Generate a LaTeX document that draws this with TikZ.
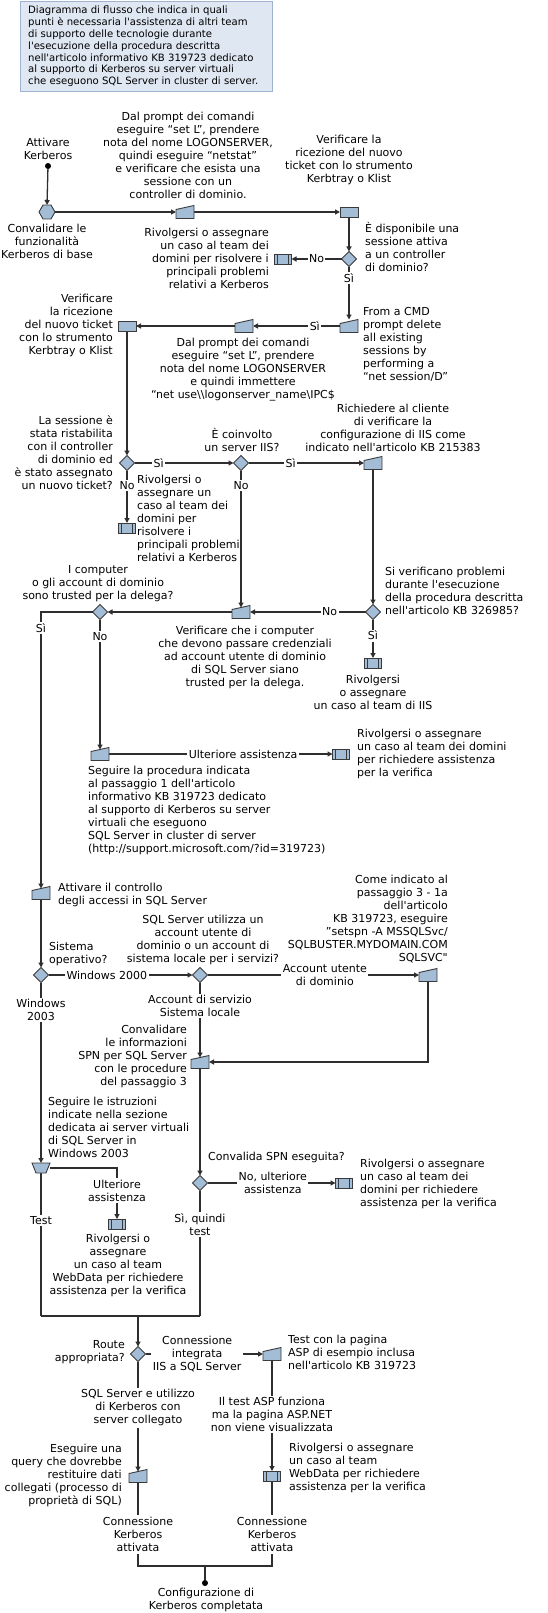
\documentclass[tikz,border=0pt]{standalone}
\usepackage{fontspec}
\setmainfont{DejaVu Sans}
\usetikzlibrary{arrows.meta,shapes.geometric}
\definecolor{shfill}{HTML}{A4BDD6}
\definecolor{shdraw}{HTML}{3A3A3A}
\definecolor{lncol}{HTML}{2E2E2E}
\definecolor{hdrfill}{HTML}{DFE7F2}
\definecolor{hdrdraw}{HTML}{9FB3D1}
\newcommand\myfs{\fontsize{11}{13}\selectfont}
\newcommand\hdrfs{\fontsize{10.1}{11.85}\selectfont}
\newcommand\apo{\textquotesingle}
\newcommand\drawmi[1]{\filldraw[shp] (#1.south west) -- (#1.south east) -- (#1.north east) -- ([yshift=-4pt]#1.north west) -- cycle;}
\newcommand\drawmo[1]{\filldraw[shp] (#1.north west) -- (#1.north east) -- ([xshift=-4pt]#1.south east) -- ([xshift=4pt]#1.south west) -- cycle;}
\newcommand\drawpp[1]{\filldraw[shp] (#1.south west) rectangle (#1.north east);
  \draw[draw=shdraw, line width=0.9pt] ([xshift=3pt]#1.south west) -- ([xshift=3pt]#1.north west) ([xshift=-3pt]#1.south east) -- ([xshift=-3pt]#1.north east);}
\newcommand\drawpr[1]{\filldraw[shp] (#1.south west) rectangle (#1.north east);}
\newcommand\drawhex[1]{\filldraw[shp] (#1.west) -- ([xshift=4pt]#1.north west) -- ([xshift=-4pt]#1.north east) -- (#1.east) -- ([xshift=-4pt]#1.south east) -- ([xshift=4pt]#1.south west) -- cycle;}
\begin{document}
\begin{tikzpicture}[x=1pt,y=-1pt,
 txt/.style={font=\myfs, inner sep=0pt, align=center, text=black},
 txl/.style={txt, align=left, anchor=west},
 txr/.style={txt, align=right, anchor=east},
 lbl/.style={txt, fill=white, inner sep=1.5pt},
 arr/.style={draw=lncol, line width=1.3pt, -{Triangle[length=5pt,width=5pt]}},
 lin/.style={draw=lncol, line width=1.3pt},
 shp/.style={fill=shfill, draw=shdraw, line width=0.9pt},
 mibox/.style={rectangle, minimum width=18pt, minimum height=13pt, inner sep=0pt, outer sep=0pt},
 prbox/.style={rectangle, minimum width=18pt, minimum height=10pt, inner sep=0pt, outer sep=0pt},
 ppbox/.style={rectangle, minimum width=17pt, minimum height=10pt, inner sep=0pt, outer sep=0pt},
 hexbox/.style={rectangle, minimum width=16pt, minimum height=14pt, inner sep=0pt, outer sep=0pt},
 dia/.style={diamond, shp, minimum width=15pt, minimum height=15pt, inner sep=0pt, outer sep=0pt},
 dot/.style={circle, fill=black, inner sep=0pt, minimum size=6pt, outer sep=0pt}
]
\useasboundingbox (0,0) rectangle (547,1613);
% header
\filldraw[fill=hdrfill, draw=hdrdraw, line width=1pt] (20,1.5) rectangle (272,92);
\node[txl, font=\hdrfs] (hdr) at (28,46.5) {Diagramma di flusso che indica in quali\\punti è necessaria l\apo assistenza di altri team\\di supporto delle tecnologie durante\\l\apo esecuzione della procedura descritta\\nell\apo articolo informativo KB 319723 dedicato\\al supporto di Kerberos su server virtuali\\che eseguono SQL Server in cluster di server.};

% ---------- shapes (invisible boxes) ----------
\node[dot] (start) at (48,166) {};
\node[hexbox] (h1) at (47,212) {};
\node[mibox] (mi1) at (185,212) {};
\node[prbox] (p1) at (349,212) {};
\node[dia] (d1) at (349,259) {};
\node[ppbox] (pp1) at (283,259) {};
\node[mibox] (mi2) at (349,326) {};
\node[mibox] (mi3) at (244,326) {};
\node[prbox] (p2) at (127,326) {};
\node[dia] (d2) at (127,463) {};
\node[dia] (d3) at (241,463) {};
\node[mibox] (mi4) at (373,463) {};
\node[ppbox] (pp2) at (127,528) {};
\node[dia] (d4) at (373,612) {};
\node[mibox] (mi5) at (241,612) {};
\node[dia] (d5) at (100,612) {};
\node[ppbox] (pp3) at (373,663) {};
\node[mibox] (mi7) at (100,754) {};
\node[ppbox] (pp4) at (341,754) {};
\node[mibox] (mi6) at (41,893) {};
\node[dia] (d6) at (41,975) {};
\node[dia] (d7) at (200,975) {};
\node[mibox] (mi8) at (428,975) {};
\node[mibox] (mi9) at (200,1062) {};
\node[prbox] (mi10) at (41,1168) {};
\node[ppbox] (pp5) at (117,1224) {};
\node[dia] (d9) at (200,1183) {};
\node[ppbox] (pp6) at (344,1183) {};
\node[dia] (d10) at (138,1354) {};
\node[mibox] (mi11) at (272,1354) {};
\node[ppbox] (pp7) at (272,1476) {};
\node[mibox] (mi12) at (138,1476) {};
\node[txt, inner sep=2pt] (ck1) at (138,1534.5) {Connessione\\Kerberos\\attivata};
\node[txt, inner sep=2pt] (ck2) at (272,1534.5) {Connessione\\Kerberos\\attivata};
\node[dot] (enddot) at (205,1583) {};
\coordinate (jl) at (41,1316);
\coordinate (jr) at (200,1316);
\coordinate (jn) at (138,1316);
\coordinate (bl) at (138,1566);
\coordinate (br) at (272,1566);
\coordinate (bm) at (205,1566);

% ---------- connectors ----------
\draw[arr] (start) -- (h1.north);
\draw[arr] (h1.east) -- (mi1.west);
\draw[arr] (mi1.east) -- (p1.west);
\draw[arr] (p1.south) -- (d1.north);
\draw[arr] (d1.west) -- node[lbl]{No} (pp1.east);
\draw[arr] (d1.south) -- node[lbl, pos=0.22]{Sì} (mi2.north);
\draw[arr] (mi2.west) -- node[lbl, pos=0.29]{Sì} (mi3.east);
\draw[arr] (mi3.west) -- (p2.east);
\draw[arr] (p2.south) -- (d2.north);
\draw[arr] (d2.east) -- node[lbl, pos=0.245]{Sì} (d3.west);
\draw[arr] (d2.south) -- node[lbl, pos=0.29]{No} (pp2.north);
\draw[arr] (d3.east) -- node[lbl, pos=0.365]{Sì} (mi4.west);
\draw[arr, shorten >=-2pt] (d3.south) -- node[lbl, pos=0.11]{No} (mi5.north);
\draw[arr] (mi4.south) -- (d4.north);
\draw[arr] (d4.west) -- node[lbl, pos=0.31]{No} (mi5.east);
\draw[arr] (d4.south) -- node[lbl, pos=0.42]{Sì} (pp3.north);
\draw[arr] (mi5.west) -- (d5.east);
\draw[arr, shorten >=-2pt] (d5.west) -| node[lbl, pos=0.53]{Sì} (mi6.north);
\draw[arr, shorten >=-2pt] (d5.south) -- node[lbl, pos=0.13]{No} (mi7.north);
\draw[arr] (mi7.east) -- node[lbl, pos=0.6]{Ulteriore assistenza} (pp4.west);
\draw[arr] (mi6.south) -- (d6.north);
\draw[arr] (d6.east) -- node[lbl, pos=0.405]{Windows 2000} (d7.west);
\draw[arr] (d7.east) -- node[lbl, pos=0.555]{Account utente\\di dominio} (mi8.west);
\draw[arr, shorten >=-2pt] (d7.south) -- node[lbl, pos=0.32]{Account di servizio\\Sistema locale} (mi9.north);
\draw[arr] (mi8.south) |- (mi9.east);
\draw[arr] (d6.south) -- node[lbl, pos=0.153]{Windows\\2003} (mi10.north);
\draw[arr] (mi10.east) -| node[lbl, pos=0.72]{Ulteriore\\assistenza} (pp5.north);
\draw[arr] (mi9.south) -- (d9.north);
\draw[arr] (d9.east) -- node[lbl, pos=0.51]{No, ulteriore\\assistenza} (pp6.west);
\draw[lin] (mi10.south) -- node[lbl, pos=0.33]{Test} (jl);
\draw[lin] (d9.south) -- node[lbl, pos=0.27]{Sì, quindi\\test} (jr);
\draw[lin] (jl) -- (jr);
\draw[arr] (jn) -- (d10.north);
\draw[arr] (d10.east) -- node[lbl, pos=0.44]{Connessione\\integrata\\IIS a SQL Server} (mi11.west);
\draw[arr, shorten >=-2pt] (d10.south) -- node[lbl, pos=0.43]{SQL Server e utilizzo\\di Kerberos con\\server collegato} (mi12.north);
\draw[arr] (mi11.south) -- node[lbl, pos=0.49]{Il test ASP funziona\\ma la pagina ASP.NET\\non viene visualizzata} (pp7.north);
\draw[lin] (mi12.south) -- (ck1.north);
\draw[lin] (pp7.south) -- (ck2.north);
\draw[lin] (ck1.south) -- (bl) -- (br) -- (ck2.south);
\draw[lin] (bm) -- (enddot);

% ---------- shape outlines ----------
\drawhex{h1}
\drawmi{mi1} \drawmi{mi2} \drawmi{mi3} \drawmi{mi4} \drawmi{mi5} \drawmi{mi6}
\drawmi{mi7} \drawmi{mi8} \drawmi{mi9} \drawmi{mi11} \drawmi{mi12}
\drawmo{mi10}
\drawpr{p1} \drawpr{p2}
\drawpp{pp1} \drawpp{pp2} \drawpp{pp3} \drawpp{pp4} \drawpp{pp5} \drawpp{pp6} \drawpp{pp7}

% ---------- texts ----------
\node[txt] (t0) at (48,148.5) {Attivare\\Kerberos};
\node[txt] (th1) at (47,241) {Convalidare le\\funzionalità\\Kerberos di base};
\node[txt] (tmi1) at (188,155) {Dal prompt dei comandi\\eseguire “set L”, prendere\\nota del nome LOGONSERVER,\\quindi eseguire “netstat”\\e verificare che esista una\\sessione con un\\controller di dominio.};
\node[txt] (tp1) at (349,159.5) {Verificare la\\ricezione del nuovo\\ticket con lo strumento\\Kerbtray o Klist};
\node[txl] (td1) at (365,246.5) {È disponibile una\\sessione attiva\\a un controller\\di dominio?};
\node[txr] (tpp1) at (269,258.5) {Rivolgersi o assegnare\\un caso al team dei\\domini per risolvere i\\principali problemi\\relativi a Kerberos};
\node[txl] (tmi2) at (363,344.5) {From a CMD\\prompt delete\\all existing\\sessions by\\performing a\\“net session/D”};
\node[txt] (tmi3) at (243,370) {Dal prompt dei comandi\\eseguire “set L”, prendere\\nota del nome LOGONSERVER\\e quindi immettere\\“net use\textbackslash\textbackslash logonserver\_name\textbackslash IPC\$};
\node[txr] (tp2) at (113,325.5) {Verificare\\la ricezione\\del nuovo ticket\\con lo strumento\\Kerbtray o Klist};
\node[txr] (td2) at (113,453) {La sessione è\\stata ristabilita\\con il controller\\di dominio ed\\è stato assegnato\\un nuovo ticket?};
\node[txt] (td3) at (242,439.5) {È coinvolto\\un server IIS?};
\node[txl] (tpp2) at (137,518.5) {Rivolgersi o\\assegnare un\\caso al team dei\\domini per\\risolvere i\\principali problemi\\relativi a Kerberos};
\node[txt] (tmi4) at (393,427.5) {Richiedere al cliente\\di verificare la\\configurazione di IIS come\\indicato nell\apo articolo KB 215383};
\node[txl] (td4) at (385,591) {Si verificano problemi\\durante l\apo esecuzione\\della procedura descritta\\nell\apo articolo KB 326985?};
\node[txt] (tpp3) at (373,692) {Rivolgersi\\o assegnare\\un caso al team di IIS};
\node[txt] (tmi5) at (245,657) {Verificare che i computer\\che devono passare credenziali\\ad account utente di dominio\\di SQL Server siano\\trusted per la delega.};
\node[txt] (td5) at (98,584) {I computer\\o gli account di dominio\\sono trusted per la delega?};
\node[txl] (tpp4) at (357,753.5) {Rivolgersi o assegnare\\un caso al team dei domini\\per richiedere assistenza\\per la verifica};
\node[txl] (tmi7) at (88,810.5) {Seguire la procedura indicata\\al passaggio 1 dell\apo articolo\\informativo KB 319723 dedicato\\al supporto di Kerberos su server\\virtuali che eseguono\\SQL Server in cluster di server\\(http://support.microsoft.com/?id=319723)};
\node[txl] (tmi6) at (58,895) {Attivare il controllo\\degli accessi in SQL Server};
\node[txl] (td6) at (49,954) {Sistema\\operativo?};
\node[txt] (td7) at (203,940) {SQL Server utilizza un\\account utente di\\dominio o un account di\\sistema locale per i servizi?};
\node[txr] (tmi8) at (448,919.5) {Come indicato al\\passaggio 3 - 1a\\dell\apo articolo\\KB 319723, eseguire\\”setspn -A MSSQLSvc/\\SQLBUSTER.MYDOMAIN.COM\\SQLSVC\textquotedbl};
\node[txr] (tmi9) at (187,1056.5) {Convalidare\\le informazioni\\SPN per SQL Server\\con le procedure\\del passaggio 3};
\node[txl] (tmi10) at (48,1127.5) {Seguire le istruzioni\\indicate nella sezione\\dedicata ai server virtuali\\di SQL Server in\\Windows 2003};
\node[txt] (tpp5) at (118,1265.5) {Rivolgersi o\\assegnare\\un caso al team\\WebData per richiedere\\assistenza per la verifica};
\node[txl] (td9) at (208,1157) {Convalida SPN eseguita?};
\node[txl] (tpp6) at (360,1183.5) {Rivolgersi o assegnare\\un caso al team dei\\domini per richiedere\\assistenza per la verifica};
\node[txr] (td10) at (125,1352.5) {Route\\appropriata?};
\node[txl] (tmi11) at (288,1352.5) {Test con la pagina\\ASP di esempio inclusa\\nell\apo articolo KB 319723};
\node[txl] (tpp7) at (289,1467.5) {Rivolgersi o assegnare\\un caso al team\\WebData per richiedere\\assistenza per la verifica};
\node[txr] (tmi12) at (122,1475.5) {Eseguire una\\query che dovrebbe\\restituire dati\\collegati (processo di\\proprietà di SQL)};
\node[txt] (tend) at (206,1599.5) {Configurazione di\\Kerberos completata};
\end{tikzpicture}
\end{document}
